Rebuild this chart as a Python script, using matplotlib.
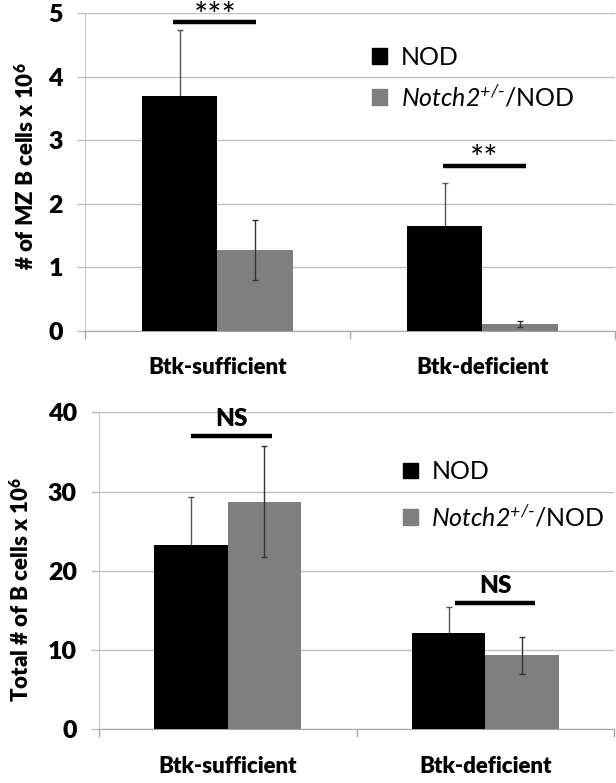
import numpy as np
import matplotlib
matplotlib.use("Agg")
import matplotlib.pyplot as plt
from matplotlib.patches import Patch

plt.rcParams['font.family'] = ['Lato', 'DejaVu Sans']
plt.rcParams['mathtext.fontset'] = 'custom'
plt.rcParams['mathtext.rm'] = 'Lato'
plt.rcParams['mathtext.it'] = 'Lato:italic'
plt.rcParams['mathtext.sf'] = 'Lato:italic'   # italic that keeps digits italic too
plt.rcParams['mathtext.bf'] = 'Lato:heavy'

# data
groups = ['Btk-sufficient', 'Btk-deficient']

mz_nod = [3.70, 1.65]
mz_nod_err = [1.03, 0.68]
mz_notch = [1.27, 0.11]
mz_notch_err = [0.475, 0.043]
mz_sig = ['***', '**']
mz_sig_y = [4.86, 2.60]
mz_sig_shift = [-0.01, 1.008]

tot_nod = [23.3, 12.1]
tot_nod_err = [6.0, 3.3]
tot_notch = [28.7, 9.33]
tot_notch_err = [7.0, 2.33]
tot_sig = ['NS', 'NS']
tot_sig_y = [37.0, 15.9]
tot_sig_shift = [0.016, 1.038]

BLACK = '#000000'
GRAY = '#7f7f7f'
GRID = '#bfbfbf'
WEIGHT = 'heavy'
width = 0.285


def draw_panel(ax, nod, nod_err, notch, notch_err, ymax, step, ylabel,
               sig, sig_y, sig_x, sig_bold, leg_anchor, leg_spacing):
    x = np.arange(len(groups))
    ax.bar(x - width / 2, nod, width, color=BLACK, zorder=3)
    ax.bar(x + width / 2, notch, width, color=GRAY, zorder=3)
    # NOD error bars sit behind the black bars, so only the upper half shows
    ax.errorbar(x - width / 2, nod, yerr=nod_err, fmt='none', ecolor='#555555',
                elinewidth=1, capsize=2, capthick=1, zorder=2)
    ax.errorbar(x + width / 2, notch, yerr=notch_err, fmt='none', ecolor='#333333',
                elinewidth=1, capsize=2, capthick=1, zorder=4)

    for i in range(len(groups)):
        ax.plot([sig_x[i] - 0.157, sig_x[i] + 0.157], [sig_y[i], sig_y[i]],
                color=BLACK, lw=3.2, solid_capstyle='butt', clip_on=False, zorder=5)
        if sig_bold:
            ax.text(sig_x[i], sig_y[i] + ymax * 0.02, sig[i], ha='center', va='bottom',
                    fontsize=17.5, fontweight=WEIGHT, clip_on=False)
        else:
            # asterisks sit high in their text box
            ax.text(sig_x[i], sig_y[i] - ymax * 0.03, sig[i], ha='center', va='bottom',
                    fontsize=24, clip_on=False, zorder=1)

    ax.set_xlim(-0.5, len(groups) - 0.5)
    ax.set_ylim(0, ymax)
    ax.set_yticks(np.arange(0, ymax + step / 2, step))
    ax.yaxis.grid(True, color=GRID, lw=1)
    ax.set_axisbelow(True)

    ax.set_xticks(np.arange(len(groups) + 1) - 0.5)
    ax.set_xticklabels([])
    ax.set_xticks(x, minor=True)
    ax.set_xticklabels(groups, minor=True, fontsize=16, fontweight=WEIGHT)
    ax.tick_params(axis='x', which='major', length=6, color='#a6a6a6', width=1)
    ax.tick_params(axis='x', which='minor', length=0, pad=19)
    ax.tick_params(axis='y', length=6, color=GRID, width=1, labelsize=18, pad=10)
    for lab in ax.get_yticklabels():
        lab.set_fontweight(WEIGHT)

    for s in ['top', 'right']:
        ax.spines[s].set_visible(False)
    ax.spines['left'].set_color('#c8c8c8')
    ax.spines['bottom'].set_color('#a6a6a6')

    ax.set_ylabel(ylabel, fontsize=16, fontweight=WEIGHT)

    handles = [Patch(color=BLACK), Patch(color=GRAY)]
    labels = ['NOD', r'$\mathsf{Notch2}^{\mathsf{+/}\text{-}}$/NOD']
    ax.legend(handles, labels, loc='upper left', bbox_to_anchor=leg_anchor, frameon=False,
              fontsize=18, handlelength=0.6, handleheight=0.6, handletextpad=0.55,
              labelspacing=leg_spacing, borderaxespad=0)


fig = plt.figure(figsize=(6.16, 7.83), dpi=100)
ax1 = fig.add_axes([0.138, 0.5773, 0.860, 0.4057])
ax2 = fig.add_axes([0.1607, 0.0686, 0.8361, 0.4048])

draw_panel(ax1, mz_nod, mz_nod_err, mz_notch, mz_notch_err, 5, 1,
           r'# of MZ B cells x 10$^{\mathbf{6}}$', mz_sig, mz_sig_y, mz_sig_shift, False,
           (0.523, 0.93), 0.6)
draw_panel(ax2, tot_nod, tot_nod_err, tot_notch, tot_notch_err, 40, 10,
           r'Total # of B cells x 10$^{\mathbf{6}}$', tot_sig, tot_sig_y, tot_sig_shift, True,
           (0.57, 0.88), 0.8)

ax1.yaxis.set_label_coords(-0.089, 0.518)
ax2.yaxis.set_label_coords(-0.128, 0.44)

fig.savefig('out.png', dpi=100)
